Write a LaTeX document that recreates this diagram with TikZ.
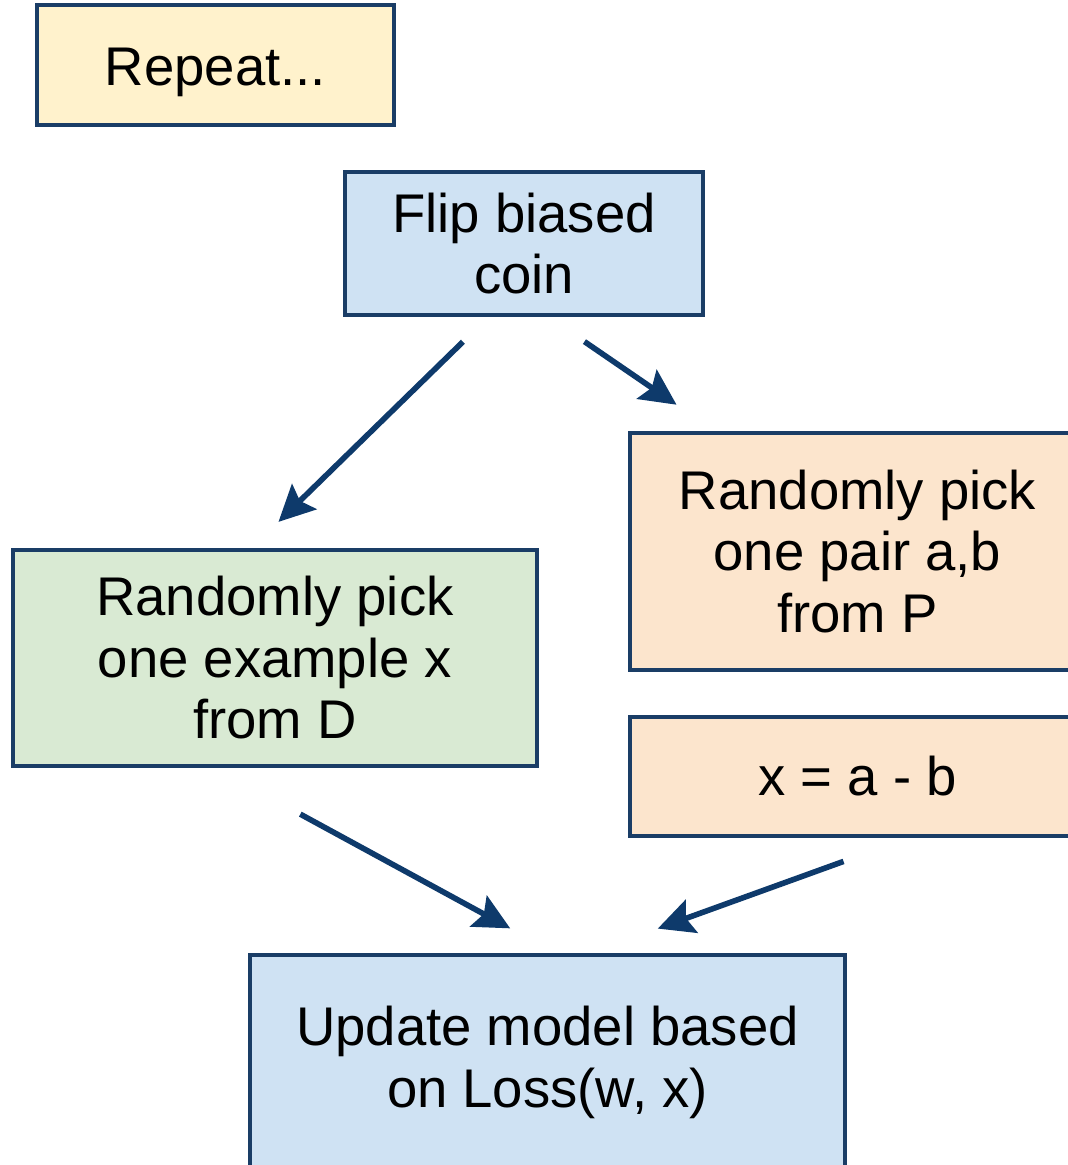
\documentclass[tikz,border=0pt]{standalone}
\usepackage{fontspec}
\setmainfont{Liberation Sans}
\usetikzlibrary{arrows.meta, positioning}
\definecolor{edgeblue}{RGB}{26,61,102}
\definecolor{arrowblue}{RGB}{14,58,107}
\definecolor{fillyellow}{RGB}{255,242,204}
\definecolor{fillblue}{RGB}{207,226,243}
\definecolor{fillgreen}{RGB}{217,234,211}
\definecolor{fillorange}{RGB}{252,229,205}

\begin{document}
\begin{tikzpicture}[>={Stealth[length=3.6mm, width=3.5mm, inset=0.6mm]},
  box/.style={draw=edgeblue, line width=1.3pt, align=center, inner sep=0pt,
    font=\fontsize{15.5}{17.5}\selectfont},
  flow/.style={->, draw=arrowblue, line width=1.6pt}]
  \useasboundingbox (0,0) rectangle (10.68,-11.65);
  \clip (0,0) rectangle (10.68,-11.65);
  % boxes
  \node[box, fill=fillyellow, minimum width=3.57cm, minimum height=1.2cm,
    text height=5.3mm, text depth=1.15mm]
    (repeat) at (2.155,-0.65) {Repeat...};
  \node[box, fill=fillblue, minimum width=3.58cm, minimum height=1.43cm]
    (coin) at (5.24,-2.435) {Flip biased\\coin};
  \node[box, fill=fillgreen, minimum width=5.24cm, minimum height=2.16cm]
    (pickD) at (2.75,-6.58) {Randomly pick\\one example x\\from D};
  \node[box, fill=fillorange, minimum width=4.55cm, minimum height=2.37cm]
    (pickP) at (8.575,-5.515) {Randomly pick\\one pair a,b\\from P};
  \node[box, fill=fillorange, minimum width=4.55cm, minimum height=1.19cm]
    (diff) at (8.575,-7.765) {x = a - b};
  \node[box, fill=fillblue, minimum width=5.95cm, minimum height=2.15cm]
    (update) at (5.475,-10.625) {Update model based\\on Loss(w, x)};
  % arrows
  \draw[flow, shorten <=0.35cm, shorten >=0.37cm]
    ([xshift=-0.36cm]coin.south) -- ([xshift=-0.23cm]pickD.north);
  \draw[flow, shorten <=0.43cm, shorten >=0.46cm]
    ([xshift=0.25cm]coin.south) -- ([xshift=-1.43cm]pickP.north);
  \draw[flow, shorten <=0.96cm, shorten >=0.51cm]
    ([xshift=-0.59cm]pickD.south) -- ([xshift=0.075cm]update.north);
  \draw[flow, shorten <=0.68cm, shorten >=0.71cm]
    ([xshift=0.5cm]diff.south) -- ([xshift=0.435cm]update.north);
\end{tikzpicture}
\end{document}
